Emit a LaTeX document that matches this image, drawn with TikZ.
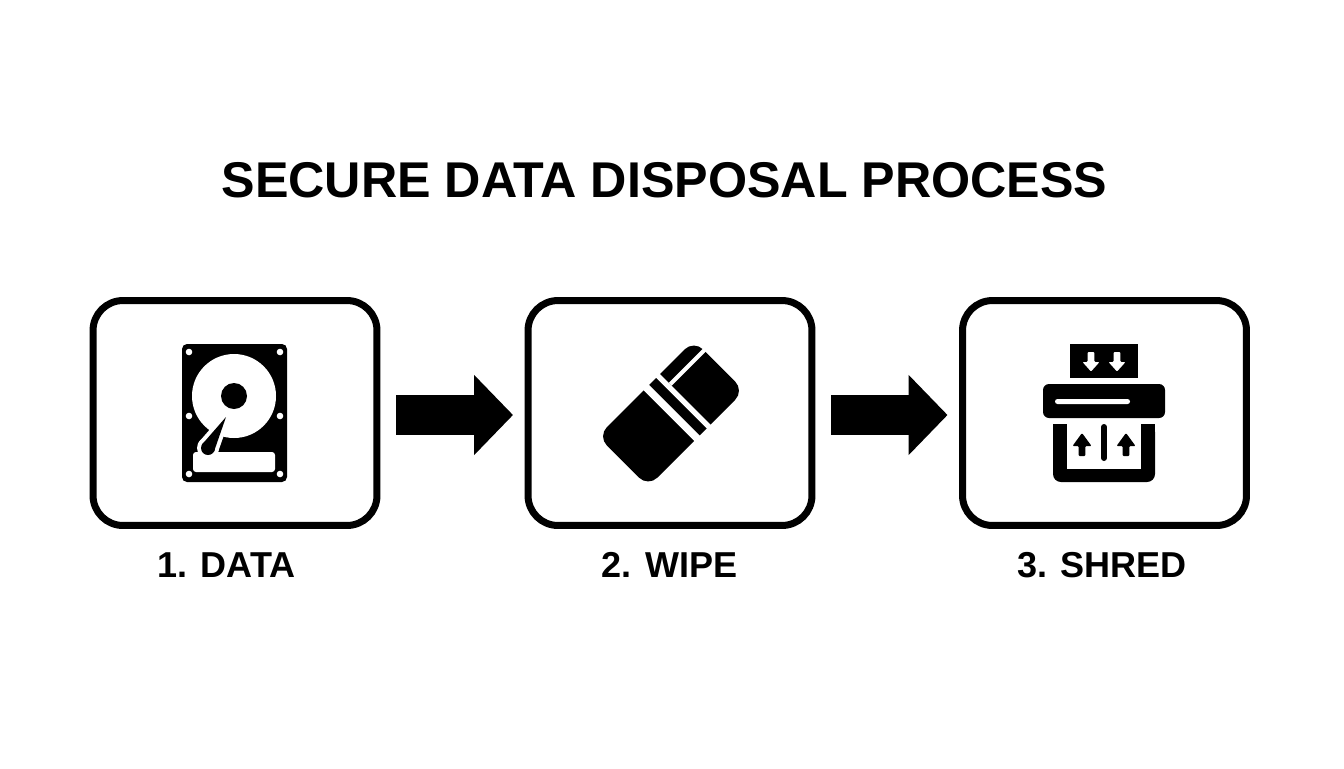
\documentclass[tikz,border=0pt]{standalone}
\usepackage{fontspec}
\setmainfont{Liberation Sans}
\usetikzlibrary{arrows.meta}

\tikzset{
    stepbox/.style={draw=black, line width=0.14cm, rounded corners=0.6cm, fill=white,
        minimum width=5.68cm, minimum height=4.5cm},
    bigarrow/.style={draw=black, line width=0.8cm, shorten <=0.32cm, shorten >=0.23cm,
        -{Triangle[length=0.78cm, width=1.56cm]}},
    headtext/.style={anchor=base, font=\bfseries\fontsize{28.6}{34}\selectfont},
    steptext/.style={anchor=base, font=\bfseries\fontsize{20.5}{25}\selectfont},
}

\begin{document}
\begin{tikzpicture}[x=0.02cm, y=-0.02cm]
    \useasboundingbox (0,0) rectangle (1344,768);

    % 1. Title
    \node[headtext] (head) at (664.5,197) {SECURE DATA DISPOSAL PROCESS};

    % 2. Three boxes with their labels
    \node[stepbox] (box1) at (235,413) {};
    \node[stepbox] (box2) at (670,413) {};
    \node[stepbox] (box3) at (1104.5,413) {};
    \node[steptext] (label1) at (226.5,577) {1. DATA};
    \node[steptext] (label2) at (669.5,577) {2. WIPE};
    \node[steptext] (label3) at (1102,577) {3. SHRED};

    % 3. Block arrows between the boxes
    \draw[bigarrow] ([yshift=-0.04cm]box1.east) -- ([yshift=-0.04cm]box2.west);
    \draw[bigarrow] ([yshift=-0.04cm]box2.east) -- ([yshift=-0.04cm]box3.west);

    % 4. Hard disk
    \fill[black, rounded corners=0.1cm] (182,344) rectangle (287,482);
    \foreach \x in {189,280} {
        \foreach \y in {352,416,474} {
            \fill[white] (\x,\y) circle (3.3);
        }
    }
    \fill[white] (234,396) circle (42);
    \fill[black] (234,396) circle (13);
    \fill[white, rounded corners=0.06cm] (193,452) rectangle (275,472);
    % Arm with its white outline
    \fill[white] (208,448) circle (11);
    \fill[white, draw=white, line width=0.16cm, line join=round]
        (226,417) -- (214,451.5) -- (202,444.5) -- cycle;
    \fill[black] (226,417) -- (214,451.5) -- (202,444.5) -- cycle;
    \fill[black] (208,448) circle (7);

    % 5. Eraser
    \begin{scope}[shift={(671,413.5)}, rotate=45]
        \fill[black, rounded corners=0.26cm] (-68,-35.7) rectangle (68,35.7);
        \fill[white] (-2.9,-38) rectangle (4.6,38);
        \fill[white] (14.7,-38) rectangle (20.1,38);
        \fill[white] (20,-23.2) rectangle (70,-19.2);
    \end{scope}

    % 6. Shredder
    \fill[black] (1070,344) rectangle (1138,378);
    \foreach \x in {1091,1117} {
        \fill[white, rounded corners=0.02cm] (\x-3.3,352) -- (\x+3.3,352) -- (\x+3.3,362) -- (\x+8.5,362)
            -- (\x,371.5) -- (\x-8.5,362) -- (\x-3.3,362) -- cycle;
    }
    \fill[black, rounded corners=0.12cm] (1043,384) rectangle (1165,418);
    \fill[white, rounded corners=0.05cm] (1055,399) rectangle (1130,404);
    \fill[black, rounded corners=0.16cm] (1053,424) rectangle (1155,482);
    \fill[black] (1053,424) rectangle (1155,450);
    \fill[white] (1067,424) rectangle (1141,469);
    \draw[black, line width=0.12cm, line cap=round] (1104,427) -- (1104,458);
    \foreach \x in {1082,1126} {
        \fill[black, rounded corners=0.02cm] (\x,433) -- (\x+9.5,446) -- (\x+3.3,446) -- (\x+3.3,456)
            -- (\x-3.3,456) -- (\x-3.3,446) -- (\x-9.5,446) -- cycle;
    }
\end{tikzpicture}
\end{document}
